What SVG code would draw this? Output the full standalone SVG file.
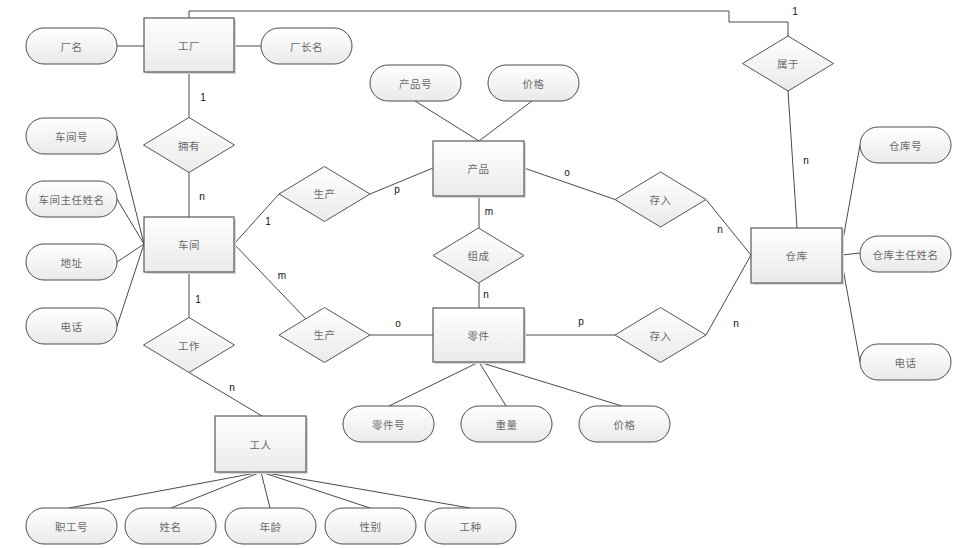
<svg xmlns="http://www.w3.org/2000/svg" width="953" height="548" viewBox="0 0 953 548">
<defs>
<linearGradient id="g" x1="0" y1="0" x2="0" y2="1">
<stop offset="0" stop-color="#ffffff"/>
<stop offset="1" stop-color="#eaeaea"/>
</linearGradient>
<style>
.ent{fill:url(#g);stroke:#595959;stroke-width:1.2}
.sh{fill:#d8d8d8;stroke:none}
.att{fill:url(#g);stroke:#4d4d4d;stroke-width:1}
.rel{fill:url(#g);stroke:#555;stroke-width:1}
.t{font-family:"Noto Sans CJK SC","Noto Sans CJK JP",sans-serif;font-size:10.5px;fill:#6a6a6a;text-anchor:middle;dominant-baseline:central;letter-spacing:0.5px}
.c{font-family:"Liberation Sans",Arial,sans-serif;font-size:10px;fill:#111;text-anchor:middle;dominant-baseline:central}
#connectors line,#connectors polyline{stroke:#4a4a4a;stroke-width:1;fill:none}
</style>
</defs>
<rect width="953" height="548" fill="#ffffff"/>
<g id="connectors">
<line x1="117" y1="46" x2="144" y2="46"/>
<line x1="234" y1="46" x2="261" y2="46"/>
<polyline points="189,18 189,11 729,11 729,22 788,22 788,36"/>
<line x1="788" y1="91" x2="797" y2="228"/>
<line x1="189" y1="72" x2="189" y2="117.5"/>
<line x1="189" y1="172.5" x2="189" y2="217"/>
<line x1="117" y1="136" x2="144" y2="244"/>
<line x1="117" y1="199" x2="144" y2="244"/>
<line x1="117" y1="262" x2="144" y2="244"/>
<line x1="117" y1="326" x2="144" y2="244"/>
<line x1="234" y1="244" x2="279" y2="194"/>
<line x1="234" y1="244" x2="306" y2="319"/>
<line x1="189" y1="272" x2="189" y2="317.5"/>
<line x1="189" y1="372.5" x2="262" y2="416"/>
<line x1="261" y1="472" x2="69" y2="508"/>
<line x1="261" y1="472" x2="171" y2="508"/>
<line x1="261" y1="472" x2="270" y2="508"/>
<line x1="261" y1="472" x2="370" y2="508"/>
<line x1="261" y1="472" x2="470" y2="508"/>
<line x1="370" y1="194" x2="433" y2="168"/>
<line x1="370" y1="335" x2="433" y2="335"/>
<line x1="415" y1="101" x2="479" y2="141"/>
<line x1="532" y1="101" x2="479" y2="141"/>
<line x1="479" y1="196" x2="479" y2="228"/>
<line x1="479" y1="283" x2="479" y2="308"/>
<line x1="479" y1="362" x2="389" y2="406"/>
<line x1="479" y1="362" x2="506" y2="406"/>
<line x1="479" y1="362" x2="622" y2="406"/>
<line x1="524" y1="168" x2="615" y2="199.5"/>
<line x1="706" y1="199.5" x2="751" y2="255"/>
<line x1="524" y1="335" x2="615" y2="335"/>
<line x1="706" y1="335" x2="751" y2="255"/>
<line x1="842" y1="245" x2="860" y2="145"/>
<line x1="842" y1="255" x2="860" y2="253"/>
<line x1="842" y1="263" x2="860" y2="362"/>
<text class="c" x="795" y="11">1</text>
<text class="c" x="806" y="160">n</text>
<text class="c" x="203" y="97">1</text>
<text class="c" x="202" y="196">n</text>
<text class="c" x="268" y="221">1</text>
<text class="c" x="282" y="275">m</text>
<text class="c" x="198" y="299">1</text>
<text class="c" x="232" y="387">n</text>
<text class="c" x="397" y="189">p</text>
<text class="c" x="567" y="172">o</text>
<text class="c" x="489" y="211">m</text>
<text class="c" x="486" y="294">n</text>
<text class="c" x="398" y="323">o</text>
<text class="c" x="581" y="321">p</text>
<text class="c" x="720" y="229">n</text>
<text class="c" x="736" y="323">n</text>
</g>
<g id="gongchang"><rect class="sh" x="146" y="20" width="90" height="54"/><rect class="ent" x="144" y="18" width="90" height="54"/><text class="t" x="189" y="45">工厂</text></g>
<g id="chejian"><rect class="sh" x="146" y="219" width="90" height="55"/><rect class="ent" x="144" y="217" width="90" height="55"/><text class="t" x="189" y="244">车间</text></g>
<g id="gongren"><rect class="sh" x="217" y="418" width="91" height="56"/><rect class="ent" x="215" y="416" width="91" height="56"/><text class="t" x="260.5" y="444">工人</text></g>
<g id="chanpin"><rect class="sh" x="435" y="143" width="91" height="55"/><rect class="ent" x="433" y="141" width="91" height="55"/><text class="t" x="478.5" y="168">产品</text></g>
<g id="lingjian"><rect class="sh" x="435" y="310" width="91" height="54"/><rect class="ent" x="433" y="308" width="91" height="54"/><text class="t" x="478.5" y="335">零件</text></g>
<g id="cangku"><rect class="sh" x="753" y="230" width="91" height="55"/><rect class="ent" x="751" y="228" width="91" height="55"/><text class="t" x="796.5" y="255">仓库</text></g>
<g id="changming"><rect class="att" x="26" y="28" width="91" height="36" rx="18"/><text class="t" x="71.5" y="46">厂名</text></g>
<g id="changzhangming"><rect class="att" x="261" y="28" width="91" height="36" rx="18"/><text class="t" x="306.5" y="46">厂长名</text></g>
<g id="chejianhao"><rect class="att" x="26" y="118" width="91" height="36" rx="18"/><text class="t" x="71.5" y="136">车间号</text></g>
<g id="zhurenxingming"><rect class="att" x="26" y="181" width="91" height="36" rx="18"/><text class="t" x="71.5" y="199">车间主任姓名</text></g>
<g id="dizhi"><rect class="att" x="26" y="244" width="91" height="36" rx="18"/><text class="t" x="71.5" y="262">地址</text></g>
<g id="dianhua1"><rect class="att" x="26" y="308" width="91" height="36" rx="18"/><text class="t" x="71.5" y="326">电话</text></g>
<g id="chanpinhao"><rect class="att" x="370" y="65" width="91" height="36" rx="18"/><text class="t" x="415.5" y="83">产品号</text></g>
<g id="jiage1"><rect class="att" x="488" y="65" width="91" height="36" rx="18"/><text class="t" x="533.5" y="83">价格</text></g>
<g id="lingjianhao"><rect class="att" x="343" y="406" width="91" height="36" rx="18"/><text class="t" x="388.5" y="424">零件号</text></g>
<g id="zhongliang"><rect class="att" x="461" y="406" width="91" height="36" rx="18"/><text class="t" x="506.5" y="424">重量</text></g>
<g id="jiage2"><rect class="att" x="579" y="406" width="91" height="36" rx="18"/><text class="t" x="624.5" y="424">价格</text></g>
<g id="cangkuhao"><rect class="att" x="860" y="127" width="91" height="36" rx="18"/><text class="t" x="905.5" y="145">仓库号</text></g>
<g id="cangkuzhuren"><rect class="att" x="860" y="236" width="91" height="36" rx="18"/><text class="t" x="905.5" y="254">仓库主任姓名</text></g>
<g id="dianhua2"><rect class="att" x="860" y="344" width="91" height="36" rx="18"/><text class="t" x="905.5" y="362">电话</text></g>
<g id="zhigonghao"><rect class="att" x="26" y="508" width="91" height="36" rx="18"/><text class="t" x="71.5" y="526">职工号</text></g>
<g id="xingming"><rect class="att" x="125" y="508" width="91" height="36" rx="18"/><text class="t" x="170.5" y="526">姓名</text></g>
<g id="nianling"><rect class="att" x="225" y="508" width="91" height="36" rx="18"/><text class="t" x="270.5" y="526">年龄</text></g>
<g id="xingbie"><rect class="att" x="325" y="508" width="91" height="36" rx="18"/><text class="t" x="370.5" y="526">性别</text></g>
<g id="gongzhong"><rect class="att" x="425" y="508" width="91" height="36" rx="18"/><text class="t" x="470.5" y="526">工种</text></g>
<g id="yongyou"><polygon class="rel" points="189,117.5 234.5,145 189,172.5 143.5,145"/><text class="t" x="189" y="145">拥有</text></g>
<g id="gongzuo"><polygon class="rel" points="189,317.5 234.5,345 189,372.5 143.5,345"/><text class="t" x="189" y="345">工作</text></g>
<g id="shengchan1"><polygon class="rel" points="324.5,166.5 370,194 324.5,221.5 279,194"/><text class="t" x="324.5" y="193">生产</text></g>
<g id="shengchan2"><polygon class="rel" points="324.5,307.5 370,335 324.5,362.5 279,335"/><text class="t" x="324.5" y="334">生产</text></g>
<g id="zucheng"><polygon class="rel" points="478.5,228 524,255.5 478.5,283 433,255.5"/><text class="t" x="478.5" y="255">组成</text></g>
<g id="cunru1"><polygon class="rel" points="660.5,172 706,199.5 660.5,227 615,199.5"/><text class="t" x="660.5" y="199">存入</text></g>
<g id="cunru2"><polygon class="rel" points="660.5,307.5 706,335 660.5,362.5 615,335"/><text class="t" x="660.5" y="335">存入</text></g>
<g id="shuyu"><polygon class="rel" points="788,36 833.5,63.5 788,91 742.5,63.5"/><text class="t" x="788" y="63">属于</text></g>
</svg>
